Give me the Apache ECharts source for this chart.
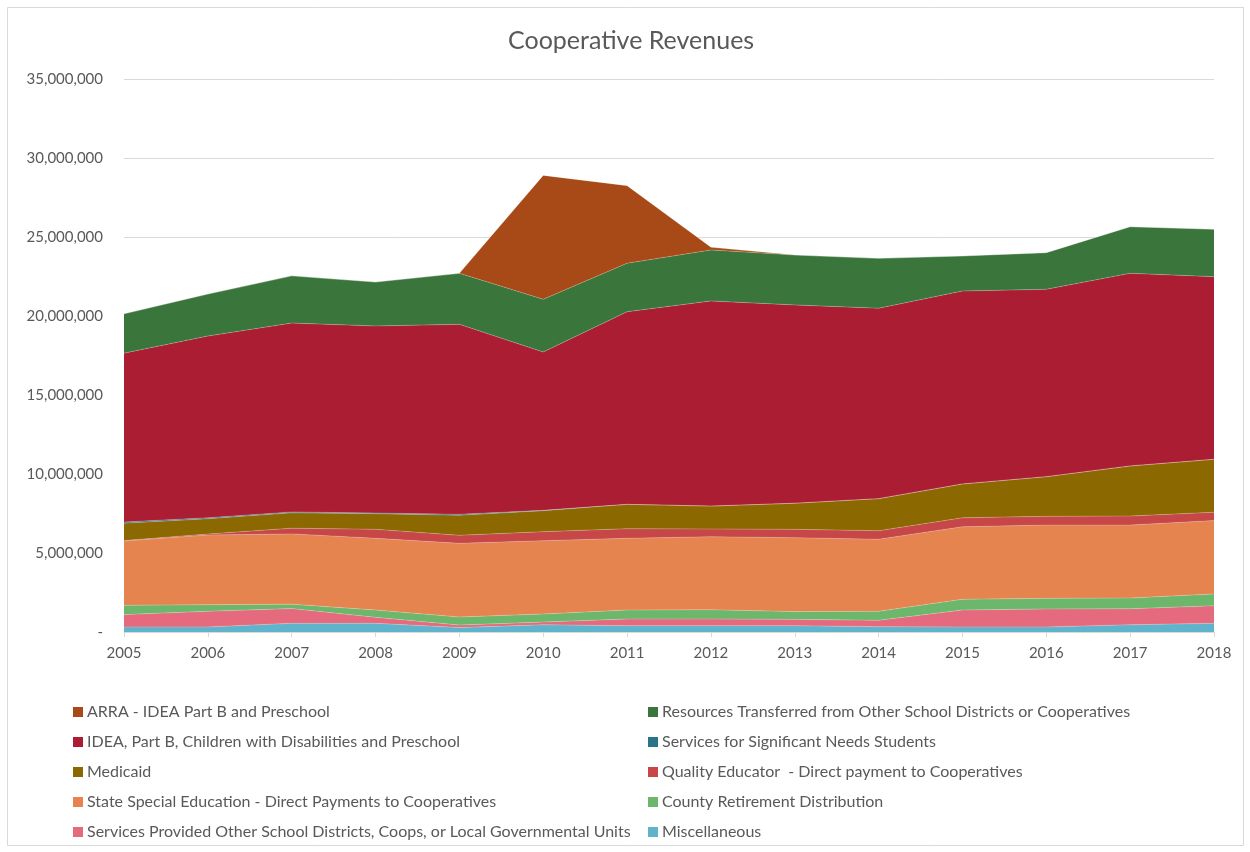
<!DOCTYPE html>
<html>
<head>
<meta charset="utf-8">
<title>Cooperative Revenues</title>
<script src="https://cdn.jsdelivr.net/npm/echarts@6/dist/echarts.min.js"></script>
<style>
	html, body { margin: 0; padding: 0; background: #fff; }
	#chart { width: 1250px; height: 852px; }
</style>
</head>
<body>
<div id="chart"></div>
<script>
// years on the x axis
const years = ['2005', '2006', '2007', '2008', '2009', '2010', '2011', '2012', '2013', '2014', '2015', '2016', '2017', '2018']

// revenue streams, listed bottom of the stack first
const miscellaneous = [320000, 320000, 550000, 550000, 280000, 460000, 400000, 400000, 400000, 340000, 320000, 320000, 460000, 550000]
const servicesProvided = [780000, 990000, 930000, 380000, 160000, 170000, 420000, 420000, 400000, 400000, 1070000, 1140000, 1010000, 1110000]
const countyRetirement = [590000, 420000, 280000, 460000, 510000, 510000, 570000, 590000, 490000, 570000, 680000, 670000, 680000, 750000]
const stateSpecialEd = [4070000, 4410000, 4450000, 4540000, 4660000, 4640000, 4540000, 4620000, 4680000, 4560000, 4590000, 4640000, 4620000, 4640000]
const qualityEducator = [30000, 60000, 360000, 570000, 510000, 570000, 610000, 490000, 530000, 540000, 570000, 550000, 570000, 530000]
const medicaid = [1100000, 970000, 970000, 990000, 1270000, 1330000, 1540000, 1450000, 1650000, 2030000, 2140000, 2510000, 3170000, 3350000]
const significantNeeds = [70000, 60000, 60000, 40000, 60000, 20000, 0, 0, 0, 0, 0, 0, 0, 0]
const ideaPartB = [10690000, 11500000, 11950000, 11840000, 12020000, 10020000, 12190000, 12980000, 12550000, 12050000, 12210000, 11860000, 12190000, 11560000]
const resourcesTransferred = [2490000, 2660000, 2990000, 2780000, 3230000, 3340000, 3070000, 3230000, 3160000, 3160000, 2220000, 2320000, 2950000, 3000000]
const arra = [0, 0, 0, 0, 0, 7840000, 4910000, 170000, 0, 0, 0, 0, 0, 0]

// y axis ticks
const yMax = 35000000
const yStep = 5000000

const FONT = 'Lato, "Open Sans", sans-serif'
const TEXT = '#595959'

const layers = [
	{ name: 'Miscellaneous', data: miscellaneous, color: '#5fb4cc' },
	{ name: 'Services Provided Other School Districts, Coops, or Local Governmental Units', data: servicesProvided, color: '#e56a7d' },
	{ name: 'County Retirement Distribution', data: countyRetirement, color: '#6cb76c' },
	{ name: 'State Special Education - Direct Payments to Cooperatives', data: stateSpecialEd, color: '#e5844f' },
	{ name: 'Quality Educator  - Direct payment to Cooperatives', data: qualityEducator, color: '#c74748' },
	{ name: 'Medicaid', data: medicaid, color: '#8c6800' },
	{ name: 'Services for Significant Needs Students', data: significantNeeds, color: '#2a7489' },
	{ name: 'IDEA, Part B, Children with Disabilities and Preschool', data: ideaPartB, color: '#ab1d33' },
	{ name: 'Resources Transferred from Other School Districts or Cooperatives', data: resourcesTransferred, color: '#3a763c' },
	{ name: 'ARRA - IDEA Part B and Preschool', data: arra, color: '#a74a17' }
]

const series = layers.map(l => ({
	name: l.name,
	type: 'line',
	stack: 'total',
	data: l.data,
	color: l.color,
	showSymbol: false,
	lineStyle: { width: 0.6, color: 'rgba(255,255,255,0.35)' },
	areaStyle: { color: l.color, opacity: 1 },
	emphasis: { disabled: true }
}))

// legend: two columns, read across like the original
const legendLeft = [layers[9], layers[7], layers[5], layers[3], layers[1]].map(l => l.name)
const legendRight = [layers[8], layers[6], layers[4], layers[2], layers[0]].map(l => l.name)

const legendBase = {
	orient: 'vertical',
	top: 699,
	itemGap: 14,
	itemWidth: 10,
	itemHeight: 10,
	icon: 'rect',
	selectedMode: false,
	textStyle: { color: TEXT, fontSize: 16, fontFamily: FONT, padding: [0, 0, 0, -1] }
}

const chart = echarts.init(document.getElementById('chart'))

const option = {
	animation: false,
	backgroundColor: '#fff',
	title: {
		text: 'Cooperative Revenues',
		left: 503,
		top: 23,
		textStyle: { color: TEXT, fontSize: 25, fontWeight: 'normal', fontFamily: FONT }
	},
	legend: [
		Object.assign({}, legendBase, { left: 68, data: legendLeft }),
		Object.assign({}, legendBase, { left: 643, data: legendRight })
	],
	grid: {
		left: 124,
		right: 36,
		top: 79,
		bottom: 220
	},
	xAxis: {
		type: 'category',
		boundaryGap: false,
		data: years,
		axisLine: { lineStyle: { color: '#d9d9d9', width: 1 } },
		axisTick: { show: true, length: 5, lineStyle: { color: '#d9d9d9' } },
		axisLabel: { color: TEXT, fontSize: 15, fontFamily: FONT, margin: 14 }
	},
	yAxis: {
		type: 'value',
		min: 0,
		max: yMax,
		interval: yStep,
		axisLine: { show: false },
		axisTick: { show: false },
		splitLine: { lineStyle: { color: '#d9d9d9', width: 1 } },
		axisLabel: {
			color: TEXT,
			fontSize: 15,
			fontFamily: FONT,
			margin: 21,
			formatter: v => v === 0 ? '-' : v.toLocaleString('en-US')
		}
	},
	graphic: [{
		type: 'rect',
		shape: { x: 7.5, y: 7.5, width: 1236, height: 838 },
		style: { fill: 'none', stroke: '#d9d9d9', lineWidth: 1 },
		silent: true
	}],
	series: series
}

chart.setOption(option)
</script>
</body>
</html>
